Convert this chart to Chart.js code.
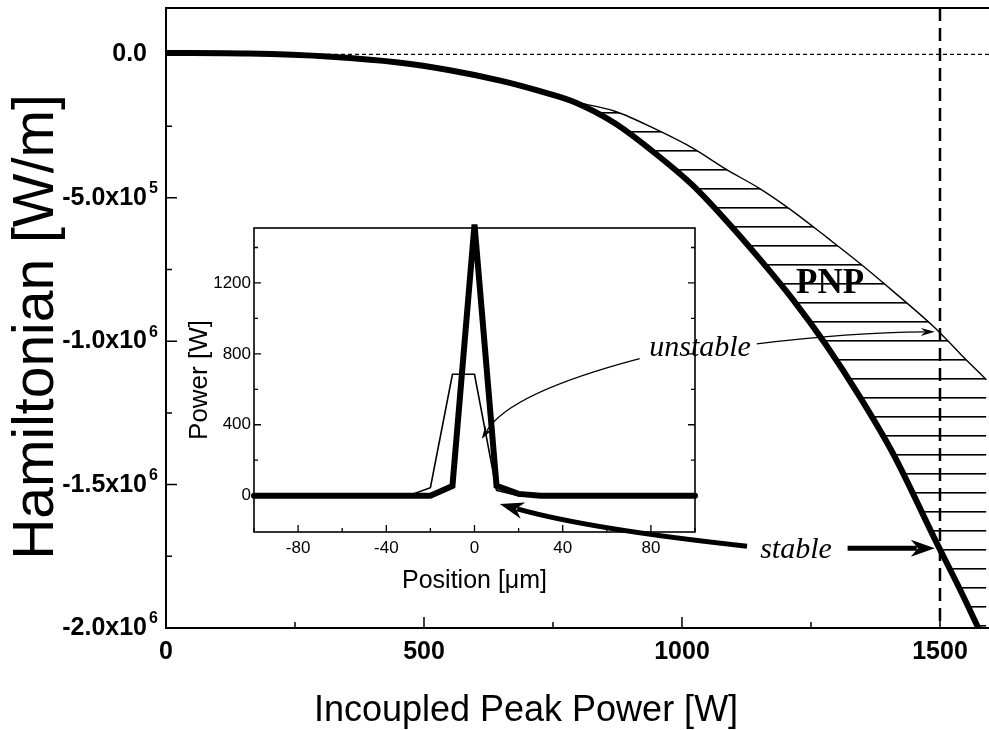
<!DOCTYPE html>
<html>
<head>
<meta charset="utf-8">
<script src="https://cdn.jsdelivr.net/npm/chart.js@4.4.1/dist/chart.umd.min.js"></script>
<style>
  html, body { margin: 0; padding: 0; background: #fff; }
  #wrap { position: relative; width: 989px; height: 730px; overflow: hidden; }
  #main { position: absolute; left: 0; top: 0; }
  #inset { position: absolute; left: 180px; top: 215px; }
</style>
</head>
<body>
<div id="wrap">
  <canvas id="main" width="989" height="730"></canvas>
  <canvas id="inset" width="530" height="395"></canvas>
</div>
<script>
// ---- main plot: Hamiltonian vs incoupled peak power ----
const powerStable = [0, 160, 320, 450, 550, 650, 725, 790, 870, 955, 1020, 1085, 1150, 1215, 1280, 1345, 1410, 1490, 1540, 1590];
const hamStable = [5000, 3000, -8000, -28000, -55000, -92000, -128000, -165000, -240000, -355000, -455000, -578000, -712000, -855000, -1015000, -1195000, -1395000, -1690000, -1870000, -2060000];
const powerUnstable = [790, 870, 955, 1020, 1085, 1150, 1215, 1280, 1345, 1410, 1490, 1540, 1590];
const hamUnstable = [-165000, -198000, -266000, -326000, -400000, -467000, -547000, -637000, -729000, -827000, -953000, -1045000, -1134000];

const xTicksMain = [0, 500, 1000, 1500];
const xMinorMain = [250, 750, 1250];
const yTicksMain = [0, -500000, -1000000, -1500000, -2000000];
const yMinorMain = [-250000, -750000, -1250000, -1750000];
const yTickMantissa = ['0.0', '-5.0x10', '-1.0x10', '-1.5x10', '-2.0x10'];
const yTickExponent = ['', '5', '6', '6', '6'];
const zeroLevel = 0;
const thresholdPower = 1500;

// text labels and arrows, in data units of the main plot
const notes = [
  { text: 'PNP', power: 1287, ham: -800000, font: 'bold 35px "Liberation Serif"' },
  { text: 'unstable', power: 1035, ham: -1023000, font: 'italic 30px "Liberation Serif"' },
  { text: 'stable', power: 1221, ham: -1727000, font: 'italic 30px "Liberation Serif"' }
];
const arrows = [
  { path: [[918, -1061000], [667, -1180000], [612, -1341000]], width: 1.3, head: [13, 8] },
  { path: [[1145, -1009000], [1325, -970000], [1490, -967000]], width: 1.3, head: [14, 8] },
  { path: [[1126, -1715000], [822, -1656000], [647, -1568000]], width: 5, head: [24, 17] },
  { path: [[1321, -1722000], [1490, -1722000]], width: 5, head: [24, 17] }
];

// ---- inset: power profiles ----
const positionUm = [-100, -90, -80, -70, -60, -50, -40, -30, -20, -10, 0, 10, 20, 30, 40, 50, 60, 70, 80, 90, 100];
const profileStable = [0, 0, 0, 0, 0, 0, 0, 0, 0, 55, 1530, 55, 10, 0, 0, 0, 0, 0, 0, 0, 0];
const profileUnstable = [0, 0, 0, 0, 0, 0, 0, 0, 45, 685, 685, 30, 0, 0, 0, 0, 0, 0, 0, 0, 0];
const xTicksInset = [-80, -40, 0, 40, 80];
const xMinorInset = [-100, -60, -20, 20, 60, 100];
const yTicksInset = [0, 400, 800, 1200];
const yMinorInset = [200, 600, 1000, 1400];

// horizontal hatching for the PNP region
const tile = document.createElement('canvas');
tile.width = 8; tile.height = 19;
const tctx = tile.getContext('2d');
tctx.fillStyle = '#000';
tctx.fillRect(0, 17, 8, 1.6);
const hatch = tctx.createPattern(tile, 'repeat');

function xy(xs, ys) { return xs.map((v, i) => ({ x: v, y: ys[i] })); }

// keep the plot area where we put it: no extra room for edge labels
function fixX(h) { return s => { s.height = h; s.paddingLeft = 0; s.paddingRight = 0; }; }
function fixY(w) { return s => { s.width = w; s.paddingTop = 0; s.paddingBottom = 0; }; }

function innerTicks(ctx, scale, values, len, side) {
  const a = scale.chart.chartArea;
  ctx.beginPath();
  values.forEach(v => {
    const p = scale.getPixelForValue(v);
    if (side === 'bottom') { ctx.moveTo(p, a.bottom); ctx.lineTo(p, a.bottom - len); }
    if (side === 'left') { ctx.moveTo(a.left, p); ctx.lineTo(a.left + len, p); }
    if (side === 'right') { ctx.moveTo(a.right, p); ctx.lineTo(a.right - len, p); }
  });
  ctx.stroke();
}

function drawArrow(ctx, x, y, ar) {
  const p = ar.path.map(([a, b]) => [x.getPixelForValue(a), y.getPixelForValue(b)]);
  const end = p[p.length - 1], prev = p[p.length - 2];
  const ang = Math.atan2(end[1] - prev[1], end[0] - prev[0]);
  const [len, wid] = ar.head;
  const bx = end[0] - Math.cos(ang) * len * 0.75, by = end[1] - Math.sin(ang) * len * 0.75;
  ctx.lineWidth = ar.width;
  ctx.beginPath();
  ctx.moveTo(p[0][0], p[0][1]);
  if (p.length === 3) ctx.quadraticCurveTo(p[1][0], p[1][1], bx, by);
  else ctx.lineTo(bx, by);
  ctx.stroke();
  ctx.save();
  ctx.translate(end[0], end[1]);
  ctx.rotate(ang);
  ctx.beginPath();
  ctx.moveTo(0, 0);
  ctx.lineTo(-len, -wid / 2);
  ctx.lineTo(-len * 0.7, 0);
  ctx.lineTo(-len, wid / 2);
  ctx.closePath();
  ctx.fill();
  ctx.restore();
}

const mainDecor = {
  id: 'mainDecor',
  beforeDatasetsDraw(chart) {
    const { ctx, chartArea: a, scales: { x, y } } = chart;
    ctx.save();
    ctx.strokeStyle = '#000';
    ctx.lineWidth = 1.3;
    ctx.setLineDash([4, 3]);
    const y0 = y.getPixelForValue(zeroLevel);
    ctx.beginPath(); ctx.moveTo(a.left, y0); ctx.lineTo(a.right, y0); ctx.stroke();
    ctx.lineWidth = 2.5;
    ctx.setLineDash([13, 7]);
    const xt = x.getPixelForValue(thresholdPower);
    ctx.beginPath(); ctx.moveTo(xt, a.top); ctx.lineTo(xt, a.bottom); ctx.stroke();
    ctx.restore();
  },
  afterDraw(chart) {
    const { ctx, chartArea: a, scales: { x, y } } = chart;
    ctx.save();
    ctx.strokeStyle = '#000';
    ctx.fillStyle = '#000';
    // frame: left, bottom, top
    ctx.lineWidth = 2;
    ctx.beginPath();
    ctx.moveTo(a.right, a.top); ctx.lineTo(a.left, a.top); ctx.lineTo(a.left, a.bottom); ctx.lineTo(a.right, a.bottom);
    ctx.stroke();
    ctx.lineWidth = 1.5;
    innerTicks(ctx, x, xTicksMain, 11, 'bottom');
    innerTicks(ctx, x, xMinorMain, 6, 'bottom');
    innerTicks(ctx, y, yTicksMain, 11, 'left');
    innerTicks(ctx, y, yMinorMain, 6, 'left');

    // exponents of the y tick labels
    ctx.font = 'bold 16px "Liberation Sans"';
    ctx.textAlign = 'left';
    ctx.textBaseline = 'middle';
    yTicksMain.forEach((v, i) => {
      if (yTickExponent[i]) ctx.fillText(yTickExponent[i], a.left - 17, y.getPixelForValue(v) - 9);
    });

    // axis titles
    ctx.textAlign = 'center';
    ctx.font = '36px "Liberation Sans"';
    ctx.fillText('Incoupled Peak Power [W]', 526, 711);
    ctx.save();
    ctx.translate(37, 327);
    ctx.rotate(-Math.PI / 2);
    ctx.font = '57px "Liberation Sans"';
    ctx.fillText('Hamiltonian [W/m]', 0, 0);
    ctx.restore();

    // annotations
    notes.forEach(n => {
      ctx.font = n.font;
      ctx.fillText(n.text, x.getPixelForValue(n.power), y.getPixelForValue(n.ham));
    });
    arrows.forEach(ar => drawArrow(ctx, x, y, ar));
    ctx.restore();
  }
};

const mainChart = new Chart(document.getElementById('main'), {
  type: 'line',
  data: {
    datasets: [
      {
        label: 'unstable',
        data: xy(powerUnstable, hamUnstable),
        borderColor: '#000',
        borderWidth: 1.4,
        pointRadius: 0,
        cubicInterpolationMode: 'monotone',
        fill: '+1',
        backgroundColor: hatch
      },
      {
        label: 'stable',
        data: xy(powerStable, hamStable),
        borderColor: '#000',
        borderWidth: 6,
        pointRadius: 0,
        cubicInterpolationMode: 'monotone',
        borderCapStyle: 'round',
        fill: false
      }
    ]
  },
  options: {
    responsive: false,
    animation: false,
    events: [],
    layout: { padding: { top: 8, right: 0, left: 0, bottom: 0 } },
    plugins: {
      legend: { display: false },
      tooltip: { enabled: false },
      filler: { drawTime: 'beforeDatasetsDraw' }
    },
    scales: {
      x: {
        type: 'linear',
        min: 0,
        max: 1595,
        grid: { display: false, drawTicks: false },
        border: { display: false },
        afterBuildTicks: s => { s.ticks = xTicksMain.map(v => ({ value: v })); },
        afterFit: fixX(102),
        ticks: {
          color: '#000',
          padding: 9,
          maxRotation: 0,
          font: { family: 'Liberation Sans', size: 25, weight: 'bold' },
          callback: v => String(v)
        }
      },
      y: {
        type: 'linear',
        min: -2000000,
        max: 162000,
        grid: { display: false, drawTicks: false },
        border: { display: false },
        afterBuildTicks: s => { s.ticks = yTicksMain.map(v => ({ value: v })); },
        afterFit: fixY(166),
        ticks: {
          color: '#000',
          padding: 19,
          font: { family: 'Liberation Sans', size: 25, weight: 'bold' },
          callback: (v, i) => yTickMantissa[i]
        }
      }
    }
  },
  plugins: [mainDecor]
});

const insetDecor = {
  id: 'insetDecor',
  afterDraw(chart) {
    const { ctx, chartArea: a, scales: { x, y } } = chart;
    ctx.save();
    ctx.strokeStyle = '#000';
    ctx.lineWidth = 1.6;
    ctx.strokeRect(a.left, a.top, a.right - a.left, a.bottom - a.top);
    ctx.lineWidth = 1.3;
    innerTicks(ctx, x, xTicksInset, 7, 'bottom');
    innerTicks(ctx, x, xMinorInset, 4, 'bottom');
    innerTicks(ctx, y, yTicksInset, 7, 'left');
    innerTicks(ctx, y, yMinorInset, 4, 'left');
    innerTicks(ctx, y, yTicksInset, 7, 'right');
    innerTicks(ctx, y, yMinorInset, 4, 'right');
    ctx.restore();
  }
};

const insetChart = new Chart(document.getElementById('inset'), {
  type: 'line',
  data: {
    datasets: [
      {
        label: 'stable profile',
        data: xy(positionUm, profileStable),
        borderColor: '#000',
        borderWidth: 6,
        pointRadius: 0,
        tension: 0,
        borderJoinStyle: 'miter',
        borderCapStyle: 'round',
        clip: false
      },
      {
        label: 'unstable profile',
        data: xy(positionUm, profileUnstable),
        borderColor: '#000',
        borderWidth: 1.6,
        pointRadius: 0,
        tension: 0
      }
    ]
  },
  options: {
    responsive: false,
    animation: false,
    events: [],
    layout: { padding: { top: 13, right: 15, left: 0, bottom: 0 } },
    plugins: { legend: { display: false }, tooltip: { enabled: false } },
    scales: {
      x: {
        type: 'linear',
        min: -100,
        max: 100,
        grid: { display: false, drawTicks: false },
        border: { display: false },
        afterBuildTicks: s => { s.ticks = xTicksInset.map(v => ({ value: v })); },
        afterFit: fixX(78),
        ticks: { color: '#000', padding: 6, maxRotation: 0, font: { family: 'Liberation Sans', size: 17 }, callback: v => String(v) },
        title: {
          display: true,
          text: 'Position [\u03bcm]',
          color: '#000',
          font: { family: 'Liberation Sans', size: 25, lineHeight: 1 },
          padding: { top: 0, bottom: 16 }
        }
      },
      y: {
        type: 'linear',
        min: -205,
        max: 1510,
        grid: { display: false, drawTicks: false },
        border: { display: false },
        afterBuildTicks: s => { s.ticks = yTicksInset.map(v => ({ value: v })); },
        afterFit: fixY(74),
        ticks: { color: '#000', padding: 3, font: { family: 'Liberation Sans', size: 17 }, callback: v => String(v) },
        title: {
          display: true,
          text: 'Power [W]',
          color: '#000',
          font: { family: 'Liberation Sans', size: 26, lineHeight: 1 },
          padding: { top: 7, bottom: 0 }
        }
      }
    }
  },
  plugins: [insetDecor]
});
</script>
</body>
</html>
